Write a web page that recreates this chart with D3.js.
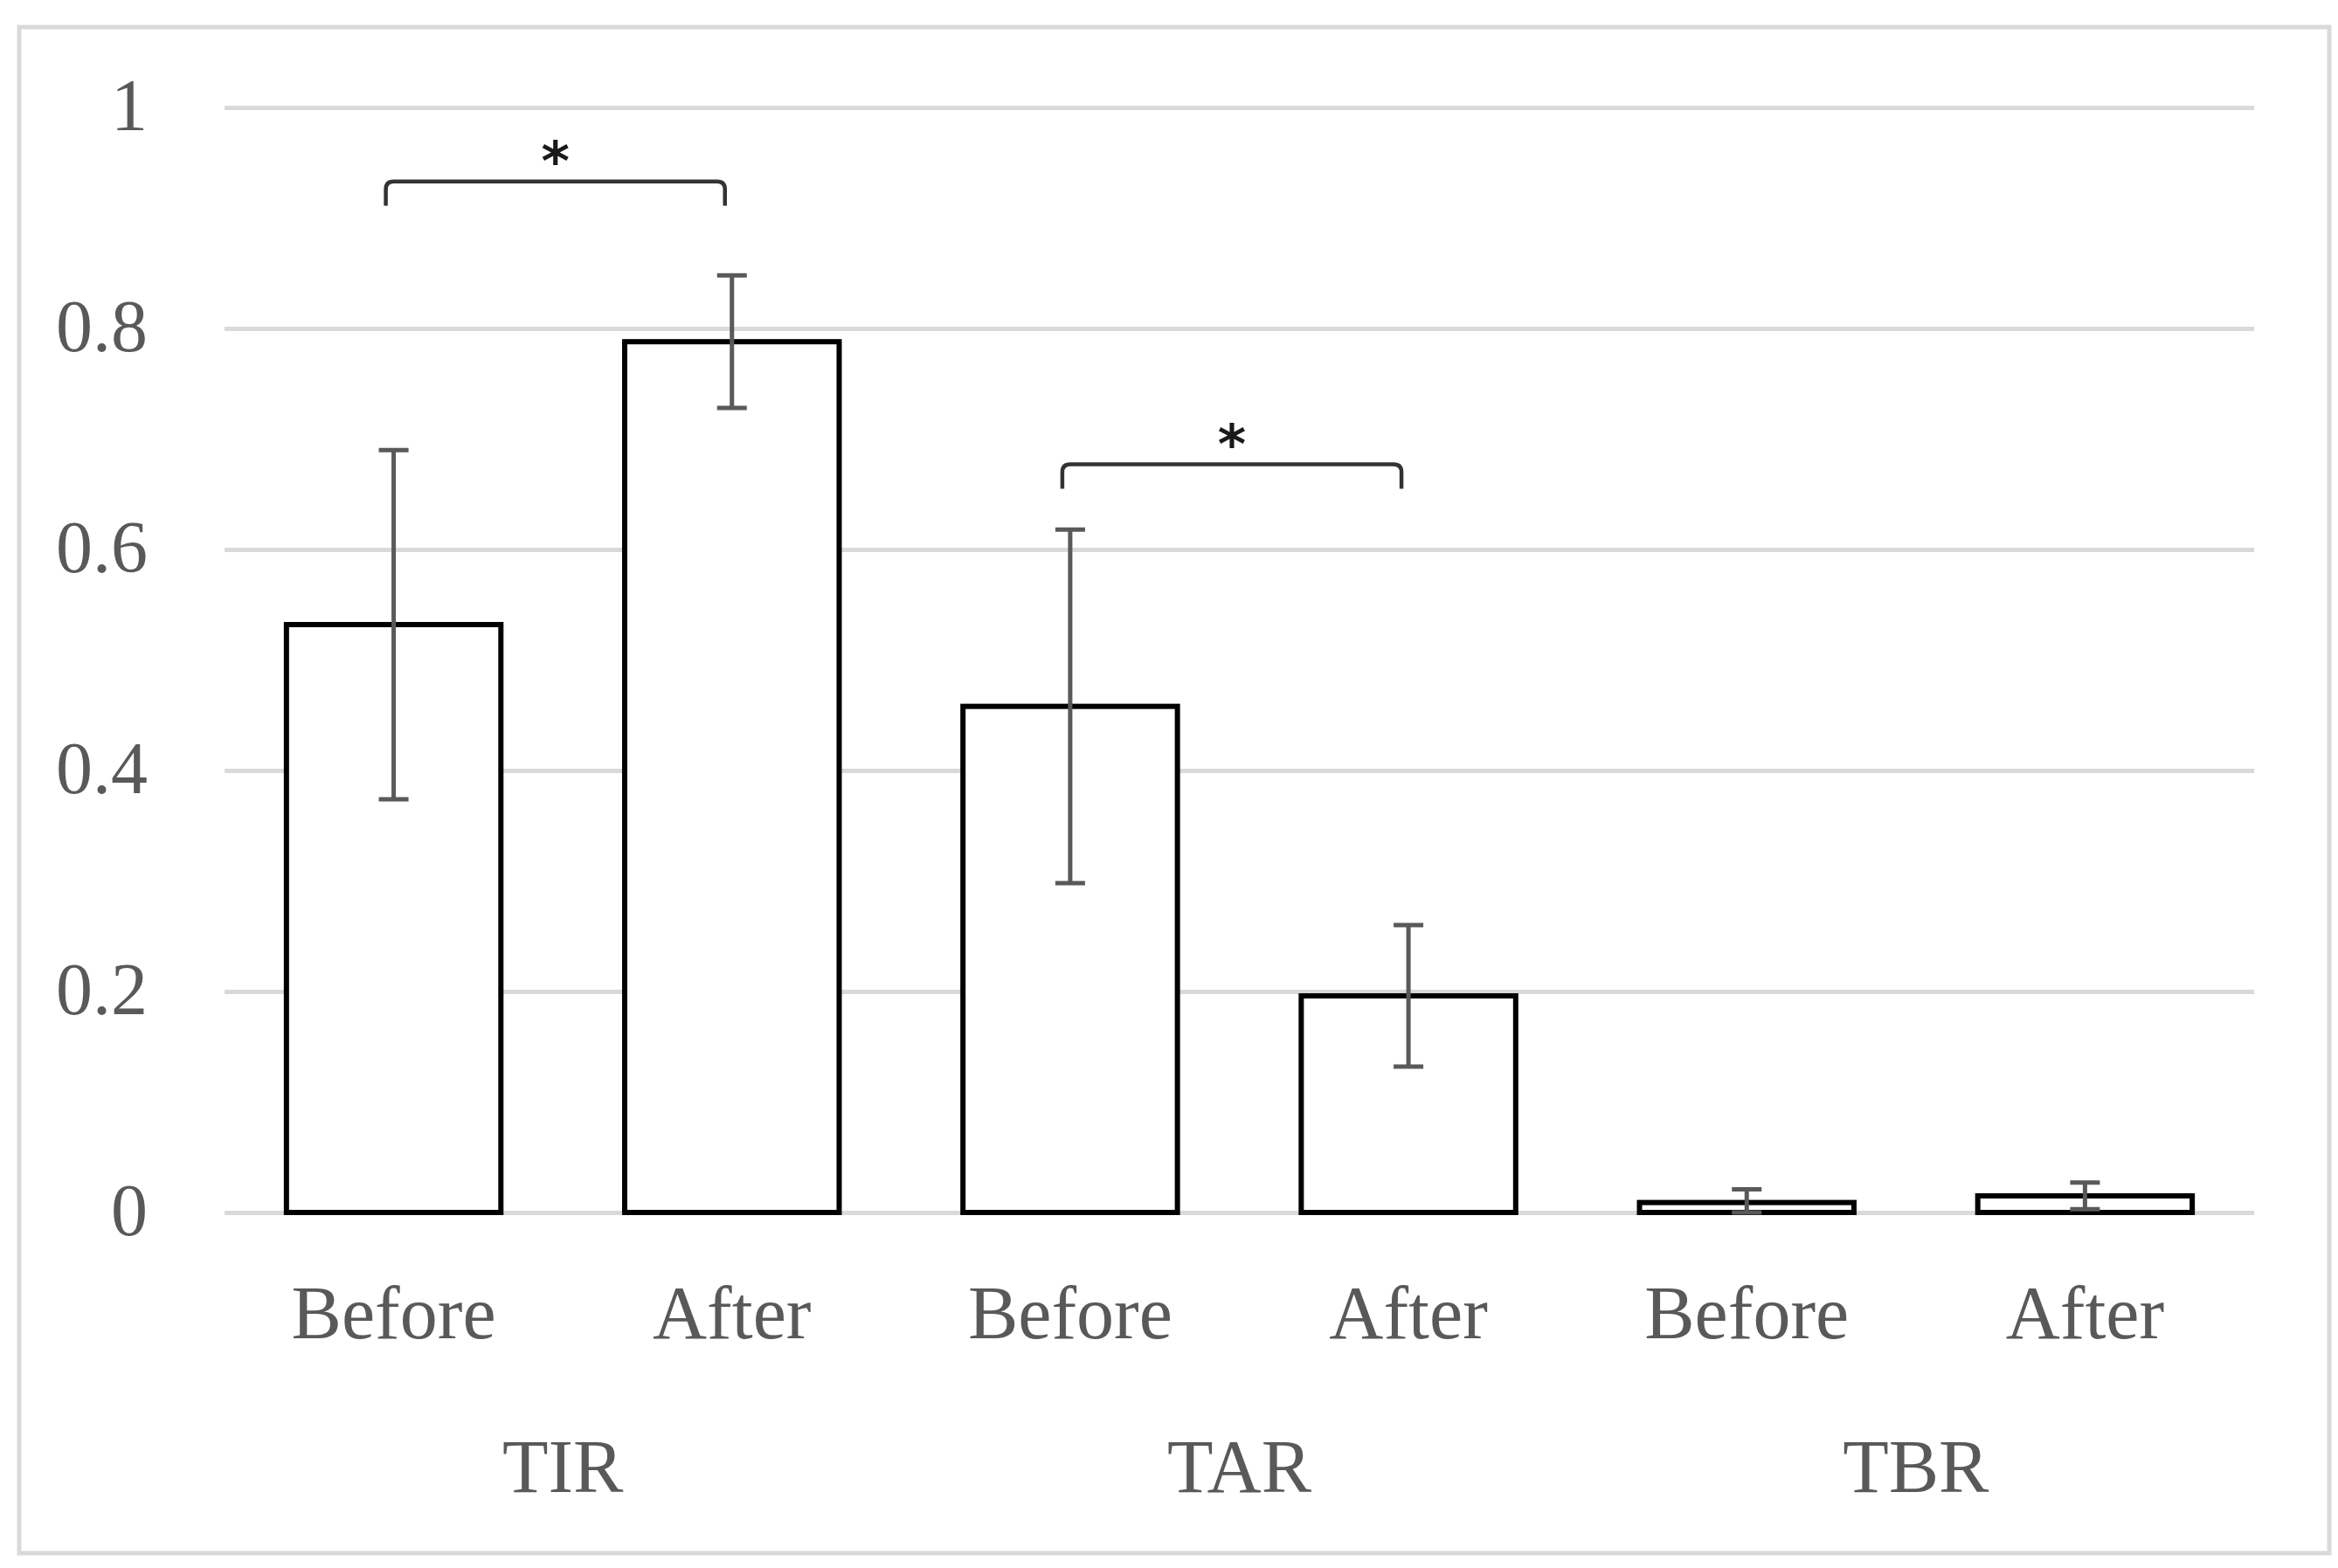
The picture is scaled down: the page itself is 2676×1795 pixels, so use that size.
<!DOCTYPE html>
<html>
<head>
<meta charset="utf-8">
<script src="https://cdn.jsdelivr.net/npm/d3@7"></script>
<style>
  body { margin: 0; background: #fff; }
  svg { display: block; }
</style>
</head>
<body>
<div id="chart"></div>
<script>
// Data
const groups = ["TIR", "TAR", "TBR"];
const phases = ["Before", "After"];
const means = [0.532, 0.788, 0.458, 0.196, 0.009, 0.015];
const errors = [0.158, 0.06, 0.16, 0.064, 0.012, 0.012];
const yTicks = [0, 0.2, 0.4, 0.6, 0.8, 1];
// significance brackets: pair of bar indices and bracket height (value units)
const sigPairs = [[0, 1], [2, 3]];
const sigLevels = [0.933, 0.677];
const sigTickDrop = 0.022;

const W = 2676, H = 1795;
const plotLeft = 257, plotRight = 2580, plotTop = 123, plotBottom = 1388;
const textColor = "#595959";
const font = "'Liberation Serif', 'Times New Roman', serif";

// one entry per bar
const bars = [];
groups.forEach((g, gi) => phases.forEach((p, pi) => {
    const i = gi * phases.length + pi;
    bars.push({ key: g + "-" + p, group: g, phase: p, mean: means[i], err: errors[i] });
}));

const svg = d3.select("#chart")
    .append("svg")
    .attr("width", W)
    .attr("height", H);

svg.append("rect")
    .attr("width", W).attr("height", H)
    .attr("fill", "#fff");

// outer frame
svg.append("rect")
    .attr("x", 22).attr("y", 31)
    .attr("width", 2644).attr("height", 1747)
    .attr("fill", "none")
    .attr("stroke", "#d9d9d9")
    .attr("stroke-width", 5);

const x = d3.scaleBand()
    .domain(bars.map(d => d.key))
    .range([plotLeft, plotRight])
    .paddingInner(0.366)
    .paddingOuter(0.183);

const y = d3.scaleLinear()
    .domain([0, 1])
    .range([plotBottom, plotTop]);

// y axis with gridlines
const yAxis = svg.append("g")
    .attr("transform", "translate(" + plotLeft + ",0)")
    .call(d3.axisLeft(y)
        .tickValues(yTicks)
        .tickSizeInner(-(plotRight - plotLeft))
        .tickSizeOuter(0)
        .tickPadding(88)
        .tickFormat(d => d3.format("")(d)));

yAxis.select(".domain").remove();
yAxis.selectAll(".tick line")
    .attr("stroke", "#d9d9d9")
    .attr("stroke-width", 5);
yAxis.selectAll(".tick text")
    .attr("fill", textColor)
    .attr("font-family", font)
    .attr("font-size", 84)
    .attr("dy", "0.3em");

// bars
svg.selectAll(".bar")
    .data(bars)
    .enter().append("rect")
    .attr("class", "bar")
    .attr("x", d => x(d.key))
    .attr("y", d => y(d.mean))
    .attr("width", x.bandwidth())
    .attr("height", d => y(0) - y(d.mean))
    .attr("fill", "#fff")
    .attr("stroke", "#000")
    .attr("stroke-width", 6);

// error bars
const cap = 17;
const eb = svg.selectAll(".err")
    .data(bars)
    .enter().append("g")
    .attr("class", "err")
    .attr("stroke", "#595959")
    .attr("stroke-width", 5);

eb.append("line")
    .attr("x1", d => x(d.key) + x.bandwidth() / 2)
    .attr("x2", d => x(d.key) + x.bandwidth() / 2)
    .attr("y1", d => y(d.mean + d.err))
    .attr("y2", d => y(Math.max(0, d.mean - d.err)));

eb.append("line")
    .attr("x1", d => x(d.key) + x.bandwidth() / 2 - cap)
    .attr("x2", d => x(d.key) + x.bandwidth() / 2 + cap)
    .attr("y1", d => y(d.mean + d.err))
    .attr("y2", d => y(d.mean + d.err));

eb.append("line")
    .attr("x1", d => x(d.key) + x.bandwidth() / 2 - cap)
    .attr("x2", d => x(d.key) + x.bandwidth() / 2 + cap)
    .attr("y1", d => y(Math.max(0, d.mean - d.err)))
    .attr("y2", d => y(Math.max(0, d.mean - d.err)));

// significance brackets
sigPairs.forEach((pair, i) => {
    const x1 = x(bars[pair[0]].key) + x.bandwidth() / 2 - 9;
    const x2 = x(bars[pair[1]].key) + x.bandwidth() / 2 - 8;
    const yt = y(sigLevels[i]);
    const yb = y(sigLevels[i] - sigTickDrop);
    const r = 9;
    svg.append("path")
        .attr("d", "M" + x1 + "," + yb +
            " L" + x1 + "," + (yt + r) +
            " Q" + x1 + "," + yt + " " + (x1 + r) + "," + yt +
            " L" + (x2 - r) + "," + yt +
            " Q" + x2 + "," + yt + " " + x2 + "," + (yt + r) +
            " L" + x2 + "," + yb)
        .attr("fill", "none")
        .attr("stroke", "#333")
        .attr("stroke-width", 4.5);
    svg.append("text")
        .attr("x", (x1 + x2) / 2)
        .attr("y", yt - 2)
        .attr("text-anchor", "middle")
        .attr("fill", "#1a1a1a")
        .attr("font-family", "'DejaVu Sans', sans-serif")
        .attr("font-weight", "bold")
        .attr("font-size", 62)
        .text("*");
});

// category labels
svg.selectAll(".phase")
    .data(bars)
    .enter().append("text")
    .attr("class", "phase")
    .attr("x", d => x(d.key) + x.bandwidth() / 2)
    .attr("y", 1532)
    .attr("text-anchor", "middle")
    .attr("fill", textColor)
    .attr("font-family", font)
    .attr("font-size", 86)
    .text(d => d.phase);

svg.selectAll(".group")
    .data(groups)
    .enter().append("text")
    .attr("class", "group")
    .attr("x", g => (x(g + "-" + phases[0]) + x(g + "-" + phases[1]) + x.bandwidth()) / 2)
    .attr("y", 1708)
    .attr("text-anchor", "middle")
    .attr("fill", textColor)
    .attr("font-family", font)
    .attr("font-size", 86)
    .text(g => g);
</script>
</body>
</html>
